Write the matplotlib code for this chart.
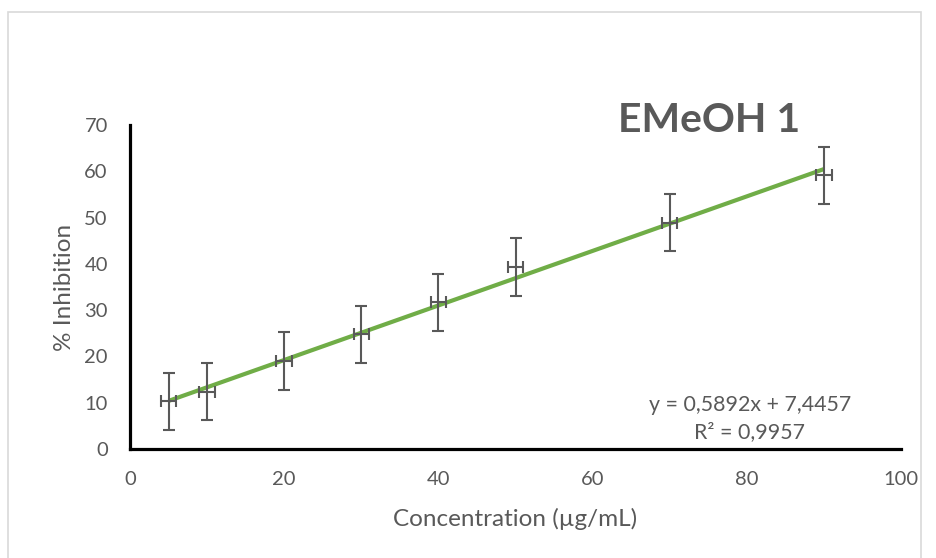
import numpy as np
import matplotlib
matplotlib.use("Agg")
import matplotlib.pyplot as plt
from matplotlib.patches import Rectangle

# data
conc = [5, 10, 20, 30, 40, 50, 70, 90]
inhibition = [10.3, 12.4, 19.0, 24.8, 31.7, 39.3, 48.9, 59.1]
y_err = [6.2, 6.2, 6.2, 6.2, 6.2, 6.2, 6.2, 6.2]
x_err = [1, 1, 1, 1, 1, 1, 1, 1]

# linear trendline shown on the chart
slope = 0.5892
intercept = 7.4457
r2 = 0.9957

plt.rcParams['font.family'] = ['Lato', 'DejaVu Sans']
grey = '#595959'

fig = plt.figure(figsize=(9.36, 5.58), dpi=100)
ax = fig.add_axes([130/936, 1 - 449/558, 771/936, 324/558])

# trendline
xs = np.array([min(conc), max(conc)])
ax.plot(xs, slope * xs + intercept, color='#70AD47', lw=3.0, solid_capstyle='butt', zorder=2)

# error bars
ax.errorbar(conc, inhibition, yerr=y_err, xerr=x_err, fmt='none', ecolor=grey,
            elinewidth=1.5, capsize=4.3, capthick=1.5, zorder=3)

ax.set_xlim(0, 100)
ax.set_ylim(0, 70)
ax.set_xticks(range(0, 101, 20))
ax.set_yticks(range(0, 71, 10))
ax.tick_params(length=0, labelsize=14.5, labelcolor=grey)
ax.tick_params(axis='y', pad=16)
ax.tick_params(axis='x', pad=16)

for s in ['top', 'right']:
    ax.spines[s].set_visible(False)
for s in ['left', 'bottom']:
    ax.spines[s].set_linewidth(2.3)
    ax.spines[s].set_color('black')

ax.set_xlabel('Concentration (µg/mL)', fontsize=17.5, color=grey, labelpad=14)
ax.set_ylabel('% Inhibition', fontsize=17.5, color=grey, labelpad=7)

# equation and R²
ax.text(80.4, 9.5, 'y = 0,5892x + 7,4457', ha='center', va='center', fontsize=15.4, color=grey)
ax.text(80.4, 3.6, 'R² = 0,9957', ha='center', va='center', fontsize=15.4, color=grey)

# title
fig.text(709/936, 1 - 121/558, 'EMeOH 1', ha='center', va='center', fontsize=29.5,
         fontweight='bold', color=grey)

# chart area border
fig.patches.append(Rectangle((8/936, -0.05), (921 - 8)/936, 1.05 - 12/558,
                             transform=fig.transFigure, fill=False,
                             edgecolor='#D9D9D9', lw=1.2))

fig.savefig('out.png', dpi=100)
